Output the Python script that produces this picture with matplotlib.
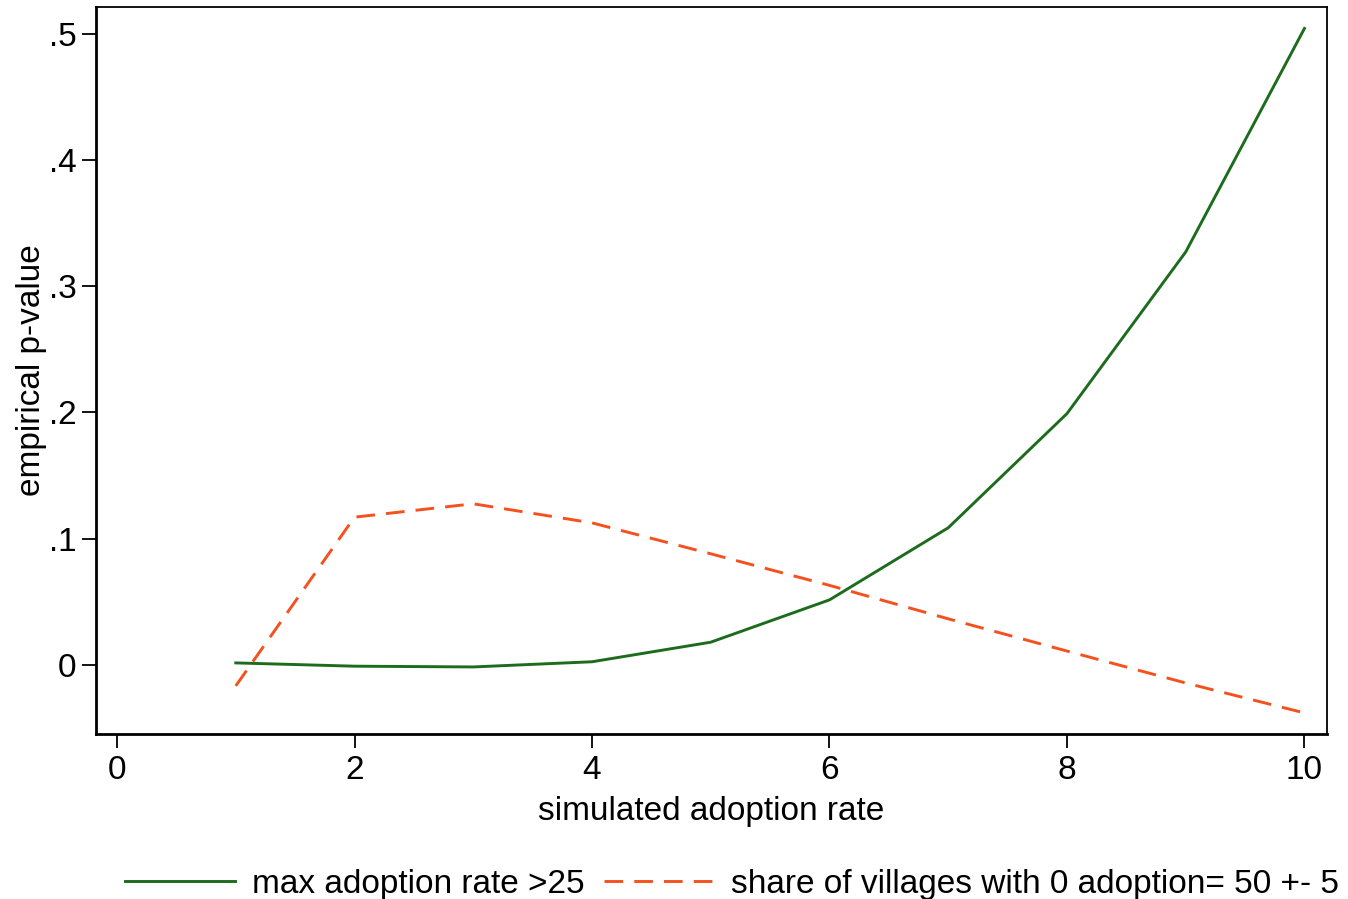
import matplotlib
matplotlib.use("Agg")
import matplotlib.pyplot as plt

x = [1, 2, 3, 4, 5, 6, 7, 8, 9, 10]
max_adoption = [0.0016, -0.001, -0.0016, 0.0025, 0.018, 0.0515, 0.1086, 0.199, 0.327, 0.504]
share_zero = [-0.0166, 0.117, 0.1276, 0.1125, 0.088, 0.063, 0.0365, 0.011, -0.0143, -0.038]
xticks = [0, 2, 4, 6, 8, 10]
yticks = [0, 0.1, 0.2, 0.3, 0.4, 0.5]
ytick_labels = ["0", ".1", ".2", ".3", ".4", ".5"]

plt.rcParams['font.family'] = ['Liberation Sans', 'DejaVu Sans']

fig = plt.figure(figsize=(13.48, 8.99), dpi=100)
ax = fig.add_axes([96/1348, 1 - 734/899, (1327-96)/1348, (734-7)/899])

l1, = ax.plot(x, max_adoption, color='#1d6b1d', lw=2.1, label='max adoption rate >25')
l2, = ax.plot(x, share_zero, color='#f4511e', lw=2.1, dashes=(6.4, 3.8),
              label='share of villages with 0 adoption= 50 +- 5')

ax.set_xlim(-0.177, 10.19)
ax.set_ylim(-0.0547, 0.521)
ax.set_xticks(xticks)
ax.set_xticklabels([str(t) for t in xticks])
ax.set_yticks(yticks)
ax.set_yticklabels(ytick_labels)

ax.tick_params(axis='both', labelsize=24, length=10, width=1.3, color='black')
ax.tick_params(axis='x', pad=5)
ax.tick_params(axis='y', pad=4)

for side in ['left', 'bottom']:
    ax.spines[side].set_linewidth(2.0)
for side in ['top', 'right']:
    ax.spines[side].set_linewidth(1.3)

ax.set_xlabel('simulated adoption rate', fontsize=24, labelpad=7)
ax.set_ylabel('empirical p-value', fontsize=24, labelpad=1)

fig.legend(handles=[l1, l2], loc='lower center', bbox_to_anchor=(0.543, -0.034),
           ncol=2, frameon=False, fontsize=24, handlelength=3.3,
           handletextpad=0.5, columnspacing=0.6)

fig.savefig('out.png', dpi=100)
